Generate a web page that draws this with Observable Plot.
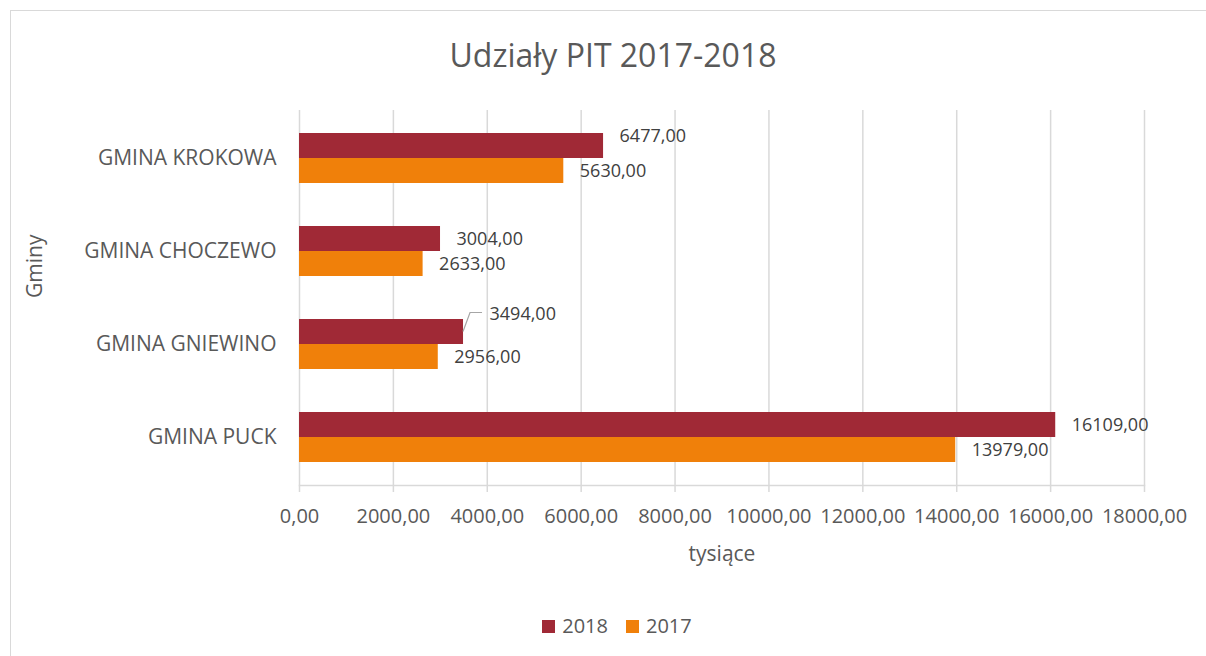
<!DOCTYPE html>
<html><head><meta charset="utf-8">
<script src="https://cdn.jsdelivr.net/npm/d3@7"></script>
<script src="https://cdn.jsdelivr.net/npm/@observablehq/plot@0.6"></script>
<style>
body{margin:0;background:#fff;font-family:"Open Sans",sans-serif;}
#wrap{position:relative;width:1206px;height:656px;overflow:hidden;}
#border{position:absolute;left:10px;top:10px;width:1220px;height:670px;border:1.5px solid #d9d9d9;box-sizing:border-box;}
#chart{position:absolute;left:0;top:0;}
#title{position:absolute;left:10px;width:1206px;top:35px;line-height:40px;text-align:center;font-size:32px;color:#595959;}
#legend{position:absolute;left:10px;width:1214px;top:612px;line-height:28px;display:flex;justify-content:center;align-items:center;font-size:20px;color:#595959;}
#legend .sw{display:inline-block;width:13px;height:13px;margin-right:7px;}
#legend .it{display:flex;align-items:center;margin:0 9px;}
</style></head>
<body>
<div id="wrap">
<div id="border"></div>
<div id="chart"></div>
<div id="title">Udziały PIT 2017-2018</div>
<div id="legend"></div>
</div>
<script>
const categories = ["GMINA KROKOWA","GMINA CHOCZEWO","GMINA GNIEWINO","GMINA PUCK"];
const series = ["2018","2017"];
const values2018 = [6477,3004,3494,16109];
const values2017 = [5630,2633,2956,13979];
const xTicks = [0,2000,4000,6000,8000,10000,12000,14000,16000,18000];
const colors = {"2018":"#A02936","2017":"#F0800A"};

const fmt = d => d.toFixed(2).replace(".", ",");
const rows = categories.flatMap((c,i)=>[
  {category:c, year:"2018", value:values2018[i]},
  {category:c, year:"2017", value:values2017[i]}
]);
const r2018 = rows.filter(d=>d.year==="2018");
const r2017 = rows.filter(d=>d.year==="2017");

// label nudges (pixels) for 2018 labels
const nudge = {"GMINA KROKOWA":[16,-10], "GMINA GNIEWINO":[26,-17.5]};
const groups = d3.groups(r2018, d => (nudge[d.category]||[16,0]).join(","));

const plot = Plot.plot({
  width:1206, height:656,
  marginTop:110, marginBottom:171, marginLeft:299, marginRight:62,
  x:{domain:[0,18000]},
  y:{domain:categories, paddingInner:0.4667, paddingOuter:0.2333, label:null},
  style:{fontFamily:"Open Sans", color:"#595959", background:"transparent", overflow:"visible"},
  marks:[
    Plot.gridX(xTicks, {stroke:"#d9d9d9", strokeOpacity:1, strokeWidth:1.5}),
    Plot.frame({anchor:"bottom", stroke:"#d9d9d9", strokeWidth:1.5}),
    Plot.axisX({ticks:xTicks, tickSize:7, tickPadding:16, stroke:"#d9d9d9", strokeWidth:1.5, tickFormat:fmt, fontSize:20, label:null}),
    Plot.axisY({tickSize:0, tickPadding:23, fontSize:21, label:null}),
    Plot.barX(r2018, {x:"value", y:"category", fill:colors["2018"], insetBottom:25}),
    Plot.barX(r2017, {x:"value", y:"category", fill:colors["2017"], insetTop:25}),
    ...groups.map(([k, g]) => {
      const [dx, dy] = k.split(",").map(Number);
      return Plot.text(g, {x:"value", y:"category", text:d=>fmt(d.value), dx, dy:-12.5+dy, textAnchor:"start", fontSize:18, fill:"#404040"});
    }),
    Plot.text(r2017, {x:"value", y:"category", text:d=>fmt(d.value), dx:16, dy:12.5, textAnchor:"start", fontSize:18, fill:"#404040"}),
    Plot.text(["tysiące"], {frameAnchor:"bottom", dy:75, fontSize:21, fill:"#595959"}),
    Plot.text(["Gminy"], {frameAnchor:"left", dx:-264, rotate:-90, fontSize:21, fill:"#595959"})
  ]
});
document.getElementById("chart").appendChild(plot);

// leader line for the GNIEWINO 2018 label
const sx = plot.scale("x"), sy = plot.scale("y");
const lc = "GMINA GNIEWINO";
const lx = sx.apply(values2018[categories.indexOf(lc)]);
const ly = sy.apply(lc) + sy.bandwidth/4;
d3.select(plot).append("path")
  .attr("d", `M${lx},${ly}L${lx+7},${ly-19}L${lx+19},${ly-19}`)
  .attr("fill","none").attr("stroke","#a6a6a6").attr("stroke-width",1.2);

const lg = d3.select("#legend");
series.forEach(s=>{
  const it = lg.append("span").attr("class","it");
  it.append("span").attr("class","sw").style("background", colors[s]);
  it.append("span").text(s);
});
</script>
</body></html>
